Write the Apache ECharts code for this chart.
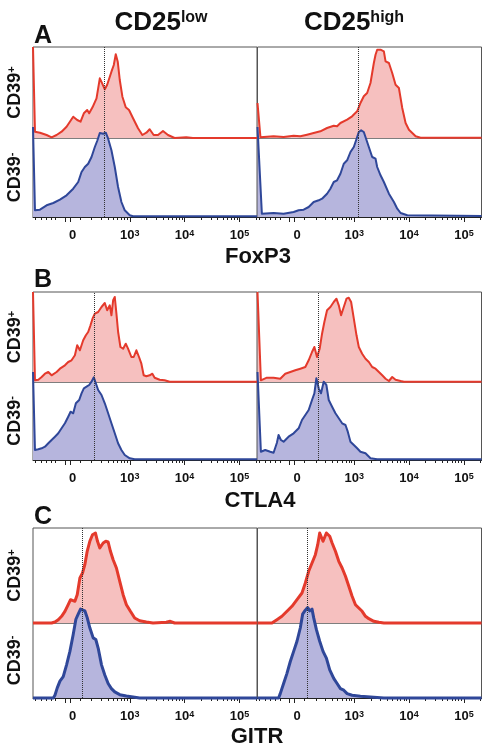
<!DOCTYPE html>
<html>
<head>
<meta charset="utf-8">
<title>CD39 histograms</title>
<script src="https://cdn.jsdelivr.net/npm/echarts@6.0.0/dist/echarts.min.js"></script>
<style>
  html, body { margin: 0; padding: 0; background: #ffffff; }
  #chart { width: 486px; height: 745px; }
</style>
</head>
<body>
<div id="chart"></div>
<script>
const FONT = '"Liberation Sans", Arial, sans-serif';

const panelLetters = ['A', 'B', 'C'];
const markers = ['FoxP3', 'CTLA4', 'GITR'];
const columnNames = ['low', 'high'];
const rowNames = ['+', '-'];

// display scale: 10^k sits at k, biexponential near zero
const axisMin = 1.236;
const axisMax = 5.32;
const tickLabelValues = [1.958, 3, 4, 5];
const tickLabels = ['0', '10{s|3}', '10{s|4}', '10{s|5}'];
const majorTicks = [1.82, 1.91, 3, 4, 5];
const minorTicks = [1.27, 1.38, 1.47, 1.56, 1.65, 2.09];
[2, 3, 4].forEach(d => { for (let k = 2; k <= 9; k++) minorTicks.push(d + Math.log10(k)); });
minorTicks.push(5 + Math.log10(2));

// dotted marker per panel [CD25low, CD25high]
const medianLines = [[2.545, 3.082], [2.35, 2.34], [2.14, 2.139]];
// count scale per panel [CD39+, CD39-]
const countMax = [[91, 79], [90, 78], [95, 74]];

// [display value, count]
const foxp3LowPos = [[1.236,91],[1.26,91],[1.272,6.3],[1.363,5.3],[1.484,3],[1.575,0.7],[1.666,3],[1.757,6.3],[1.848,11.3],[1.969,21.3],[2.042,18],[2.103,16.3],[2.163,24.7],[2.224,28],[2.26,24.7],[2.321,30.7],[2.394,39.7],[2.454,59.7],[2.491,55.3],[2.545,48.7],[2.587,53],[2.666,66.3],[2.709,73],[2.745,83.7],[2.781,76.3],[2.818,58],[2.866,41.3],[2.927,30.7],[2.987,28],[3.06,19.7],[3.151,9.7],[3.23,3],[3.303,5.3],[3.363,8.7],[3.436,3],[3.515,3],[3.606,7],[3.697,3],[3.818,0],[4.03,0.7],[4.151,0],[5.32,0]];
const foxp3LowNeg = [[1.236,90],[1.26,90],[1.272,6.7],[1.363,7.3],[1.484,11.7],[1.606,14],[1.727,17.3],[1.848,21.7],[1.969,28.3],[2.06,35],[2.121,45],[2.181,50],[2.242,53.3],[2.303,60],[2.363,70],[2.406,76],[2.454,84],[2.515,83.3],[2.563,84.3],[2.606,78.3],[2.666,66.7],[2.727,50],[2.787,30],[2.848,15],[2.909,6.7],[3.0,1.7],[3.06,0.7],[5.32,0.7]];
const foxp3HighPos = [[1.236,35],[1.26,35],[1.29,0.7],[1.529,1.7],[1.712,1],[1.895,2.3],[2.017,1.7],[2.139,3.3],[2.26,5],[2.382,6.7],[2.504,10],[2.626,12.3],[2.687,11.7],[2.748,15],[2.87,18.3],[2.961,21.7],[3.053,26.7],[3.113,35],[3.174,41.7],[3.235,45],[3.296,55],[3.357,75],[3.388,83.3],[3.418,88.3],[3.479,88.3],[3.54,86.7],[3.571,76.7],[3.632,75],[3.692,65],[3.753,53.3],[3.814,50],[3.875,30],[3.936,15],[3.997,8.3],[4.058,5],[4.119,1.7],[4.21,0.3],[5.32,0.3]];
const foxp3HighNeg = [[1.236,90],[1.26,90],[1.316,3.3],[1.529,4],[1.712,3.3],[1.895,5],[1.986,6.7],[2.078,7.3],[2.169,10],[2.26,15],[2.352,16.7],[2.413,18.3],[2.504,23.3],[2.565,28.3],[2.626,35],[2.687,36.7],[2.748,43.3],[2.809,53.3],[2.87,56.7],[2.931,65],[2.992,70],[3.053,80],[3.083,85],[3.126,86.7],[3.174,85],[3.205,83.3],[3.266,70],[3.327,60],[3.388,58.3],[3.418,50],[3.479,41.7],[3.54,35],[3.632,23.3],[3.723,15],[3.784,8.3],[3.845,4],[3.967,1.7],[5.32,1]];

const ctla4LowPos = [[1.236,90],[1.26,90],[1.272,1.7],[1.333,2.3],[1.394,5],[1.454,8.3],[1.515,10],[1.575,6.7],[1.666,10],[1.727,13.3],[1.818,16.7],[1.878,20],[1.939,21.7],[2.0,26.7],[2.042,36.7],[2.091,31.7],[2.151,41.7],[2.2,46.7],[2.242,50],[2.284,56.7],[2.321,63.3],[2.363,68.3],[2.424,70],[2.485,75],[2.545,79],[2.588,71.7],[2.636,76.7],[2.666,66.7],[2.697,81.7],[2.727,85],[2.757,68.3],[2.788,50],[2.83,35],[2.879,33.3],[2.927,38.3],[2.969,33.3],[3.03,25],[3.072,25],[3.121,31.7],[3.169,25],[3.212,18.3],[3.254,6.7],[3.303,5.7],[3.363,6.7],[3.412,8.3],[3.454,4.3],[3.545,2.3],[3.636,1.7],[3.727,0.3],[5.32,0.3]];
const ctla4LowNeg = [[1.236,88],[1.26,88],[1.272,10],[1.333,10.7],[1.394,11.7],[1.454,13.3],[1.515,16.7],[1.575,20],[1.636,23.3],[1.697,26.7],[1.757,31.7],[1.818,36.7],[1.878,43.3],[1.921,48.3],[1.969,46.7],[2.018,56.7],[2.078,60],[2.121,66.7],[2.163,71.7],[2.212,73.3],[2.26,75],[2.303,78.3],[2.345,82.7],[2.382,76.7],[2.424,70],[2.485,65],[2.545,56.7],[2.606,46.7],[2.666,36.7],[2.727,26.7],[2.787,16.7],[2.848,10],[2.909,5],[3.0,1.7],[3.091,0.7],[5.32,0.7]];
const ctla4HighPos = [[1.236,90],[1.26,90],[1.298,1.7],[1.407,4.3],[1.529,4.3],[1.651,3.3],[1.742,8.3],[1.834,10],[1.925,11.7],[2.017,13.3],[2.108,15],[2.169,21.7],[2.23,30],[2.273,35],[2.321,25],[2.37,33.3],[2.413,48.3],[2.455,60],[2.504,71.7],[2.565,75],[2.626,80],[2.675,83.3],[2.718,76.7],[2.76,66.7],[2.809,75],[2.858,83.3],[2.9,84.3],[2.943,80],[2.992,63.3],[3.041,46.7],[3.083,35],[3.144,28.3],[3.205,23.3],[3.266,20],[3.327,15],[3.388,13.3],[3.449,10],[3.51,6.7],[3.571,3.3],[3.632,1],[3.692,5],[3.753,2.3],[3.845,1],[3.906,0.3],[5.32,0.3]];
const ctla4HighNeg = [[1.236,88],[1.26,88],[1.298,8.3],[1.377,10],[1.468,8.3],[1.529,7.3],[1.59,17.3],[1.62,25],[1.663,20],[1.712,18.3],[1.803,23.3],[1.895,26.7],[1.986,31.7],[2.047,40],[2.108,45],[2.169,50],[2.23,60],[2.273,66.7],[2.309,81.7],[2.352,71.7],[2.394,66.7],[2.443,78.3],[2.492,75],[2.535,60],[2.596,53.3],[2.657,46.7],[2.718,41.7],[2.779,36.7],[2.84,35],[2.882,28.3],[2.931,18.3],[2.992,15],[3.053,11.7],[3.113,8.3],[3.205,6.7],[3.296,1.7],[3.418,0.7],[5.32,0.7]];

const gitrLowPos = [[1.236,0],[1.575,0],[1.636,1],[1.697,3.3],[1.757,6.7],[1.818,11.7],[1.878,18.3],[1.921,23.3],[1.957,25],[2.0,21.7],[2.042,28.3],[2.091,45],[2.139,50],[2.181,58.3],[2.224,71.7],[2.272,81.7],[2.321,88.3],[2.375,90],[2.412,81.7],[2.454,75],[2.515,80],[2.563,81.7],[2.606,81],[2.648,71.7],[2.697,63.3],[2.757,55],[2.818,41.7],[2.879,28.3],[2.939,18.3],[3.012,11.7],[3.09,5],[3.181,2.3],[3.303,1],[3.424,0],[3.666,0.7],[3.739,1.7],[3.818,0],[5.32,0]];
const gitrLowNeg = [[1.236,0],[1.606,0],[1.636,2.7],[1.678,10],[1.727,16.7],[1.787,21],[1.848,32.7],[1.909,46],[1.969,62.7],[2.018,77.7],[2.06,82.7],[2.103,87.7],[2.139,89.3],[2.181,86],[2.224,79.3],[2.272,69.3],[2.333,59.3],[2.381,57.7],[2.424,49.3],[2.485,32.7],[2.545,22.7],[2.606,14.3],[2.666,9.3],[2.727,6],[2.818,3.3],[2.939,2],[3.06,1],[3.181,0],[5.32,0]];
const gitrHighPos = [[1.236,0],[1.499,0],[1.529,1],[1.59,3.3],[1.681,6.7],[1.773,11.7],[1.864,16.7],[1.956,23.3],[2.047,30],[2.108,40],[2.169,51.7],[2.23,60],[2.291,68.3],[2.334,78.3],[2.37,90],[2.394,86.7],[2.431,81.7],[2.455,85],[2.492,90],[2.522,91.7],[2.553,86.7],[2.596,80],[2.657,71.7],[2.718,61.7],[2.779,55],[2.84,46.7],[2.901,36.7],[2.961,26.7],[3.022,18.3],[3.083,15],[3.144,11.7],[3.205,6.7],[3.266,4.3],[3.357,1.7],[3.449,0.7],[3.54,0],[5.32,0]];
const gitrHighNeg = [[1.236,0],[1.621,0],[1.651,4.3],[1.712,14.3],[1.773,24.3],[1.834,36],[1.895,46],[1.956,56],[2.017,69.3],[2.059,82.7],[2.108,86.7],[2.151,89.3],[2.187,86],[2.23,87.7],[2.26,79.3],[2.309,67.7],[2.37,56],[2.431,46],[2.492,39.3],[2.553,27.7],[2.626,19.3],[2.687,14.3],[2.748,9.3],[2.809,7.7],[2.87,4.3],[2.961,2.7],[3.113,1.7],[3.357,0.7],[3.54,0],[5.32,0]];

const histograms = [
  [[foxp3LowPos, foxp3LowNeg], [foxp3HighPos, foxp3HighNeg]],
  [[ctla4LowPos, ctla4LowNeg], [ctla4HighPos, ctla4HighNeg]],
  [[gitrLowPos, gitrLowNeg], [gitrHighPos, gitrHighNeg]],
];

// layout
const colLeft = [33, 257.5];
const colWidth = 224;
const panelTop = [47, 292, 528];
const panelSplit = [138, 382, 623];
const panelBottom = [217, 460, 698];
const lineWidths = [2, 2, 3];
const lineColors = ['#e43a2c', '#2f4799'];
const fillColors = ['#f6c0bf', '#b6b5dd'];

const grid = [], xAxis = [], yAxis = [], series = [];

for (let p = 0; p < 3; p++) {
  for (let c = 0; c < 2; c++) {
    for (let r = 0; r < 2; r++) {
      const gi = grid.length;
      const top = r ? panelSplit[p] : panelTop[p];
      const bottom = r ? panelBottom[p] : panelSplit[p];
      grid.push({
        left: colLeft[c], width: colWidth, top: top, height: bottom - top,
        show: true, borderColor: '#555', borderWidth: 1, outerBoundsMode: 'none',
      });
      const xi = xAxis.length;
      if (r === 0) {
        xAxis.push({ type: 'value', gridIndex: gi, min: axisMin, max: axisMax, show: false });
      } else {
        xAxis.push({
          type: 'value', gridIndex: gi, min: axisMin, max: axisMax, position: 'bottom',
          axisLine: { show: true, onZero: false, lineStyle: { color: '#222', width: 1 } },
          splitLine: { show: false },
          axisTick: { show: true, customValues: majorTicks, length: 5, lineStyle: { color: '#222', width: 1 } },
          axisLabel: {
            customValues: tickLabelValues,
            formatter: v => {
              const i = tickLabelValues.findIndex(t => Math.abs(t - v) < 1e-6);
              return i >= 0 ? tickLabels[i] : '';
            },
            margin: 12, fontFamily: FONT, fontSize: 13, fontWeight: 'bold', color: '#111',
            rich: { s: { fontFamily: FONT, fontSize: 9, fontWeight: 'bold', color: '#111', verticalAlign: 'top' } },
          },
        });
        xAxis.push({
          type: 'value', gridIndex: gi, min: axisMin, max: axisMax, position: 'bottom',
          axisLine: { show: false }, splitLine: { show: false }, axisLabel: { show: false },
          axisTick: { show: true, customValues: minorTicks, length: 3, lineStyle: { color: '#222', width: 1 } },
        });
      }
      yAxis.push({
        type: 'value', gridIndex: gi, min: 0, max: countMax[p][r],
        axisLine: { show: false }, axisTick: { show: false }, axisLabel: { show: false }, splitLine: { show: false },
        name: c === 0 ? 'CD39{s|' + rowNames[r] + '}' : '',
        nameLocation: 'middle', nameRotate: 90, nameGap: 9,
        nameTextStyle: {
          fontFamily: FONT, fontSize: 18, fontWeight: 'bold', color: '#111',
          rich: { s: { fontFamily: FONT, fontSize: 11, fontWeight: 'bold', color: '#111', verticalAlign: 'top' } },
        },
      });
      series.push({
        type: 'line', xAxisIndex: xi, yAxisIndex: gi,
        data: histograms[p][c][r],
        symbol: 'none', clip: false, silent: true, z: 2 + r,
        lineStyle: { color: lineColors[r], width: lineWidths[p], join: 'round' },
        areaStyle: { color: fillColors[r], opacity: 1 },
        markLine: {
          symbol: ['none', 'none'], silent: true, animation: false,
          label: { show: false },
          lineStyle: { type: 'dotted', color: '#333', width: 1 },
          data: [{ xAxis: medianLines[p][c] }],
        },
      });
    }
  }
}

function textItem(x, y, text, size, supSize) {
  return {
    type: 'text', x: x, y: y, silent: true,
    style: {
      text: text, fill: '#111', fontFamily: FONT, fontSize: size, fontWeight: 'bold',
      align: 'center', verticalAlign: 'middle',
      rich: { s: { fontFamily: FONT, fontSize: supSize, fontWeight: 'bold', fill: '#111', verticalAlign: 'top' } },
    },
  };
}

const graphic = [
  textItem(161, 23, 'CD25{s|' + columnNames[0] + '}', 26, 16),
  textItem(354, 23, 'CD25{s|' + columnNames[1] + '}', 26, 16),
  textItem(43, 36, panelLetters[0], 25, 14),
  textItem(43, 280, panelLetters[1], 25, 14),
  textItem(43, 517, panelLetters[2], 25, 14),
  textItem(258, 257, markers[0], 22, 14),
  textItem(260, 501, markers[1], 22, 14),
  textItem(257, 737, markers[2], 22, 14),
];

const chart = echarts.init(document.getElementById('chart'), null, { renderer: 'canvas' });
chart.setOption({
  animation: false,
  backgroundColor: '#ffffff',
  grid: grid,
  xAxis: xAxis,
  yAxis: yAxis,
  series: series,
  graphic: graphic,
});
</script>
</body>
</html>
